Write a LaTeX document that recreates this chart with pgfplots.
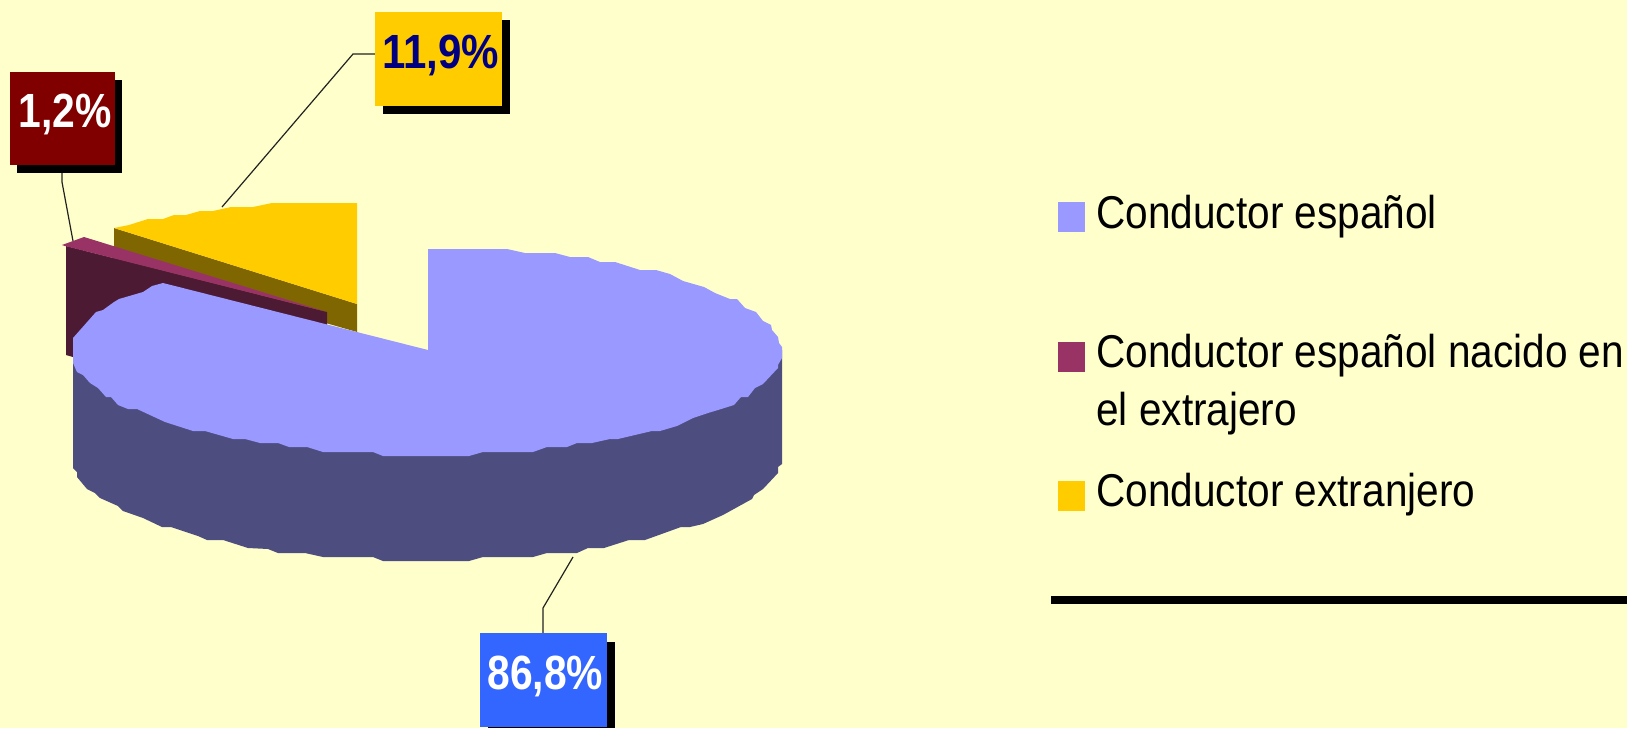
\documentclass[border=0pt]{standalone}
\usepackage{fontspec}
\setmainfont{Liberation Sans}
\usepackage{graphicx}
\usepackage{pgfplots}
\pgfplotsset{compat=1.18}
\definecolor{bgc}{HTML}{FFFFCC}
\definecolor{pieblue}{HTML}{9999FF}
\definecolor{pieblued}{HTML}{4D4D80}
\definecolor{piemar}{HTML}{993366}
\definecolor{piemard}{HTML}{4D1A33}
\definecolor{pieyel}{HTML}{FFCC00}
\definecolor{pieyeld}{HTML}{806600}
\definecolor{boxred}{HTML}{800000}
\definecolor{boxblue}{HTML}{3366FF}
\definecolor{navy}{HTML}{000080}
\definecolor{leader}{HTML}{222222}
\newcommand{\lab}[2][0.85]{\fontsize{24}{24}\selectfont\bfseries\scalebox{#1}[1]{#2}}
\newcommand{\leg}[1]{\fontsize{23}{23}\selectfont\scalebox{0.882}[1]{#1}}
\pgfplotsset{poly/.style={fill=#1,draw=none,mark=none,forget plot},
  lead/.style={draw=leader,line width=0.6pt,mark=none,forget plot}}
\begin{document}
\begin{tikzpicture}
\begin{axis}[scale only axis,width=813.5pt,height=364pt,hide axis,
  xmin=0,xmax=1627,ymin=0,ymax=728,y dir=reverse]
% background
\addplot[poly=bgc] coordinates {(0,0) (1627,0) (1627,728) (0,728)} --cycle;
% leader lines
\addplot[lead] coordinates {(375,54) (353,54) (222,207)};
\addplot[lead] coordinates {(62,173) (62,182) (73,241)};
\addplot[lead] coordinates {(543,633) (543,608) (573,557)};
% foreign driver slice
\addplot[poly=pieyeld] coordinates {(114,228) (357,304) (357,332) (114,262)} --cycle;
\addplot[poly=pieyel] coordinates {(357,203) (272,203) (253,207) (231,207) (213,211) (200,211)
  (186,215) (174,215) (163,219) (148,219) (129,225) (114,228) (357,304)} --cycle;
% born abroad slice
\addplot[poly=piemard] coordinates {(66,246) (327,312) (327,325) (163,300) (73,357) (66,355)} --cycle;
\addplot[poly=piemar] coordinates {(62,245) (73,241) (84,237) (327,312) (65,246)} --cycle;
% spanish driver slice, side
\addplot[poly=pieblued] coordinates {(782,350) (782,464) (778,467) (778,473) (763,489) (754,495)
  (752,499) (723,515) (703,524) (690,527) (681,527) (645,540) (629,540) (604,548) (588,548)
  (577,553) (547,553) (533,557) (483,557) (469,561) (383,561) (373,557) (323,557) (305,553)
  (278,553) (268,549) (248,548) (223,540) (207,540) (198,536) (171,527) (162,527) (143,518)
  (123,511) (118,506) (100,498) (95,493) (87,489) (77,477) (77,472) (73,468) (73,355) (400,350)} --cycle;
% spanish driver slice, top
\addplot[poly=pieblue] coordinates {(428,350) (428,249) (507,249) (525,253) (555,253) (570,257)
  (588,257) (600,262) (615,262) (640,270) (656,270) (670,274) (683,281) (704,287) (715,293)
  (730,299) (737,299) (745,308) (756,312) (763,321) (771,325) (772,330) (778,337) (779,343)
  (782,347) (782,358) (778,365) (778,368) (763,384) (755,388) (748,397) (741,397) (734,405)
  (718,410) (708,413) (693,418) (677,426) (660,431) (652,431) (618,439) (610,439) (592,443)
  (577,443) (567,447) (547,447) (533,452) (483,452) (469,456) (383,456) (373,452) (323,452)
  (307,447) (289,447) (278,443) (260,443) (245,439) (233,439) (205,431) (193,431) (165,422)
  (137,409) (128,409) (118,405) (111,397) (106,397) (98,388) (90,383) (83,375) (77,372)
  (73,363) (73,338) (96,312) (103,310) (114,302) (119,299) (143,292) (152,286) (163,283)} --cycle;
% value boxes
\addplot[poly=black] coordinates {(383,20) (510,20) (510,114) (383,114)} --cycle;
\addplot[poly=pieyel] coordinates {(375,12) (502,12) (502,106) (375,106)} --cycle;
\addplot[poly=black] coordinates {(17,80) (122,80) (122,173) (17,173)} --cycle;
\addplot[poly=boxred] coordinates {(10,72) (115,72) (115,165) (10,165)} --cycle;
\addplot[poly=black] coordinates {(488,642) (615,642) (615,728) (488,728)} --cycle;
\addplot[poly=boxblue] coordinates {(480,633) (607,633) (607,727) (480,727)} --cycle;
% legend keys and rule
\addplot[poly=pieblue] coordinates {(1058,202) (1085,202) (1085,232) (1058,232)} --cycle;
\addplot[poly=piemar] coordinates {(1058,342) (1085,342) (1085,372) (1058,372)} --cycle;
\addplot[poly=pieyel] coordinates {(1058,481) (1085,481) (1085,511) (1058,511)} --cycle;
\addplot[poly=black] coordinates {(1051,596) (1627,596) (1627,604) (1051,604)} --cycle;
% texts
\node[anchor=base west,inner sep=0pt,text=navy] at (axis cs:382,68) {\lab[0.875]{11,9\%}};
\node[anchor=base west,inner sep=0pt,text=white] at (axis cs:18,127) {\lab{1,2\%}};
\node[anchor=base west,inner sep=0pt,text=white] at (axis cs:487,689) {\lab{86,8\%}};
\node[anchor=base west,inner sep=0pt] at (axis cs:1096,228) {\leg{Conductor español}};
\node[anchor=base west,inner sep=0pt] at (axis cs:1096,367) {\leg{Conductor español nacido en}};
\node[anchor=base west,inner sep=0pt] at (axis cs:1096,425) {\leg{el extrajero}};
\node[anchor=base west,inner sep=0pt] at (axis cs:1096,506) {\leg{Conductor extranjero}};
\end{axis}
\end{tikzpicture}
\end{document}
